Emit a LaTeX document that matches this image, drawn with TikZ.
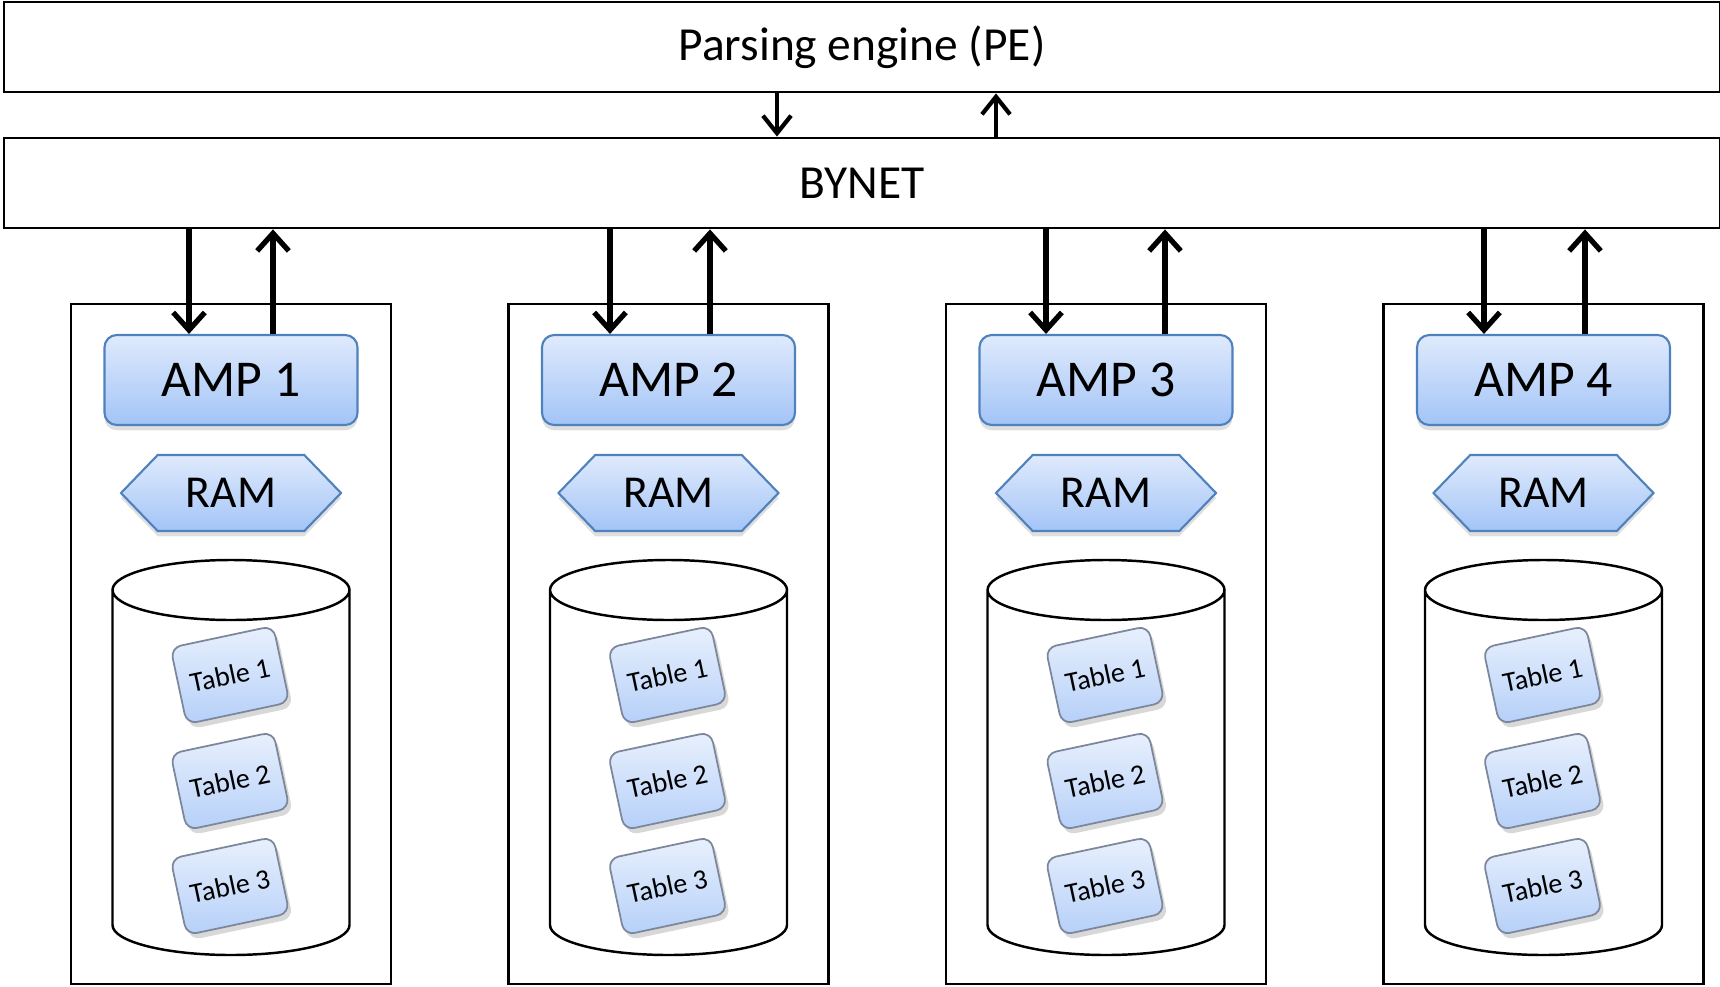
\documentclass[tikz,border=0pt]{standalone}
\usepackage{fontspec}
\setmainfont{Carlito}
\usepackage{xcolor}
\usetikzlibrary{shapes.symbols, arrows.meta, shadows}

\definecolor{ampline}{RGB}{79,129,189}
\definecolor{amptop}{RGB}{223,234,252}
\definecolor{ampbot}{RGB}{163,196,247}
\definecolor{tblline}{RGB}{125,135,155}

\tikzset{
    bar/.style={draw, line width=0.8pt, minimum width=17.16cm, minimum height=0.9cm, inner sep=0pt, font=\fontsize{13.5}{16}\selectfont},
    nodebox/.style={draw, line width=0.8pt, minimum width=3.2cm, minimum height=6.8cm, inner sep=0pt},
    amp/.style={draw=ampline, line width=0.6pt, rounded corners=3.5pt, top color=amptop, bottom color=ampbot, minimum width=2.53cm, minimum height=0.9cm, inner sep=0pt, font=\fontsize{14.7}{17}\selectfont, drop shadow={shadow xshift=0pt, shadow yshift=-1.5pt, opacity=0.25}},
    ram/.style={signal, signal to=east and west, signal pointer angle=92, draw=ampline, line width=0.6pt, top color=amptop, bottom color=ampbot, minimum width=2.2cm, minimum height=0.76cm, inner sep=0pt, font=\fontsize{13}{15}\selectfont, drop shadow={shadow xshift=0pt, shadow yshift=-1.5pt, opacity=0.25}},
    disk/.style={draw, line width=0.7pt, fill=white},
    tbl/.style={draw=tblline, line width=0.5pt, rounded corners=3pt, top color=amptop!70!white, bottom color=ampbot!80!white, rotate=12, minimum width=1.05cm, minimum height=0.78cm, inner sep=0pt, font=\fontsize{8}{9}\selectfont, drop shadow={shadow xshift=1pt, shadow yshift=-1.5pt, opacity=0.3}},
    link/.style={line width=1.5pt, -{Straight Barb[length=5pt, width=9pt]}},
    thinlink/.style={line width=1.2pt, -{Straight Barb[length=5pt, width=8pt]}}
}

\begin{document}
\begin{tikzpicture}
    \useasboundingbox (0,0) rectangle (17.2,-9.87);

    \node[bar] (pe)    at (8.62,-0.47) {Parsing engine (PE)};
    \node[bar] (bynet) at (8.62,-1.83) {BYNET};

    \draw[thinlink] (7.77,0 |- pe.south) -- (7.77,0 |- bynet.north);
    \draw[thinlink] (9.96,0 |- bynet.north) -- (9.96,0 |- pe.south);

    % first node
    \node[nodebox] (box1) at (2.31,-6.44) {};
    \node[amp]  (amp1) at (2.31,-3.80) {AMP 1};
    \node[ram]  (ram1) at (2.31,-4.93) {RAM};
    \draw[disk] (1.125,-5.90) -- ++(0,-3.35) arc[start angle=180, end angle=360, x radius=1.185, y radius=0.3] -- ++(0,3.35)
                (2.31,-5.90) ellipse[x radius=1.185, y radius=0.3];
    \node[tbl]  (t11) at (2.30,-6.75) {Table 1};
    \node[tbl]  (t12) at (2.30,-7.81) {Table 2};
    \node[tbl]  (t13) at (2.30,-8.86) {Table 3};
    \draw[link] (1.89,0 |- bynet.south) -- (1.89,0 |- amp1.north);
    \draw[link] (2.73,0 |- amp1.north) -- (2.73,0 |- bynet.south);

    % second node
    \node[nodebox] (box2) at (6.685,-6.44) {};
    \node[amp]  (amp2) at (6.685,-3.80) {AMP 2};
    \node[ram]  (ram2) at (6.685,-4.93) {RAM};
    \draw[disk] (5.50,-5.90) -- ++(0,-3.35) arc[start angle=180, end angle=360, x radius=1.185, y radius=0.3] -- ++(0,3.35)
                (6.685,-5.90) ellipse[x radius=1.185, y radius=0.3];
    \node[tbl]  (t21) at (6.675,-6.75) {Table 1};
    \node[tbl]  (t22) at (6.675,-7.81) {Table 2};
    \node[tbl]  (t23) at (6.675,-8.86) {Table 3};
    \draw[link] (6.10,0 |- bynet.south) -- (6.10,0 |- amp2.north);
    \draw[link] (7.10,0 |- amp2.north) -- (7.10,0 |- bynet.south);

    % third node
    \node[nodebox] (box3) at (11.06,-6.44) {};
    \node[amp]  (amp3) at (11.06,-3.80) {AMP 3};
    \node[ram]  (ram3) at (11.06,-4.93) {RAM};
    \draw[disk] (9.875,-5.90) -- ++(0,-3.35) arc[start angle=180, end angle=360, x radius=1.185, y radius=0.3] -- ++(0,3.35)
                (11.06,-5.90) ellipse[x radius=1.185, y radius=0.3];
    \node[tbl]  (t31) at (11.05,-6.75) {Table 1};
    \node[tbl]  (t32) at (11.05,-7.81) {Table 2};
    \node[tbl]  (t33) at (11.05,-8.86) {Table 3};
    \draw[link] (10.46,0 |- bynet.south) -- (10.46,0 |- amp3.north);
    \draw[link] (11.65,0 |- amp3.north) -- (11.65,0 |- bynet.south);

    % fourth node
    \node[nodebox] (box4) at (15.435,-6.44) {};
    \node[amp]  (amp4) at (15.435,-3.80) {AMP 4};
    \node[ram]  (ram4) at (15.435,-4.93) {RAM};
    \draw[disk] (14.25,-5.90) -- ++(0,-3.35) arc[start angle=180, end angle=360, x radius=1.185, y radius=0.3] -- ++(0,3.35)
                (15.435,-5.90) ellipse[x radius=1.185, y radius=0.3];
    \node[tbl]  (t41) at (15.425,-6.75) {Table 1};
    \node[tbl]  (t42) at (15.425,-7.81) {Table 2};
    \node[tbl]  (t43) at (15.425,-8.86) {Table 3};
    \draw[link] (14.84,0 |- bynet.south) -- (14.84,0 |- amp4.north);
    \draw[link] (15.85,0 |- amp4.north) -- (15.85,0 |- bynet.south);
\end{tikzpicture}
\end{document}
